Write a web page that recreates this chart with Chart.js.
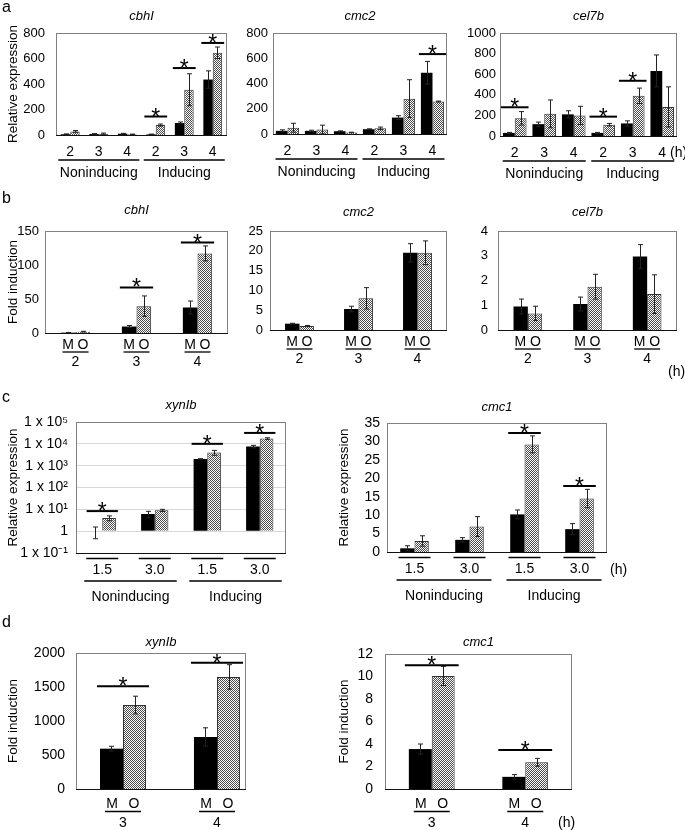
<!DOCTYPE html>
<html>
<head>
<meta charset="utf-8">
<script src="https://cdn.jsdelivr.net/npm/chart.js@4"></script>
<style>
  html, body { margin: 0; padding: 0; background: #fff; }
  body { position: relative; width: 685px; height: 830px; overflow: hidden; }
  canvas { position: absolute; }
</style>
</head>
<body>
<script>
// ---- data (M = black bars, O = hatched bars, *Er = error) ----
const groups = ['Noninducing', 'Inducing']
const hoursA = ['2', '3', '4', '2', '3', '4']
const hoursB = ['2', '3', '4']
const hoursC = ['1.5', '3.0', '1.5', '3.0']
const hoursD = ['3', '4']

// a: relative expression
const cbhA_M = [6, 8, 10, 5, 94, 435]
const cbhA_MEr = [3, 3, 3, 2, 8, 68]
const cbhA_O = [28, 10, 5, 78, 355, 645]
const cbhA_OEr = [7, 5, 2, 8, 125, 45]
const cbhA_star = [[3, 145], [4, 525], [5, 722]]

const cmc2A_M = [25, 25, 22, 38, 130, 485]
const cmc2A_MEr = [8, 5, 3, 3, 15, 90]
const cmc2A_O = [50, 35, 12, 45, 280, 257]
const cmc2A_OEr = [35, 35, 2, 10, 150, 4]
const cmc2A_star = [[5, 633]]

const cel7bA_M = [30, 115, 210, 30, 122, 632]
const cel7bA_MEr = [5, 20, 35, 5, 25, 155]
const cel7bA_O = [172, 215, 200, 110, 390, 282]
const cel7bA_OEr = [65, 135, 88, 12, 75, 195]
const cel7bA_star = [[0, 279], [3, 188], [4, 536]]

// b: fold induction
const cbhB_M = [0.5, 9.5, 37.5]
const cbhB_MEr = [0.3, 1.5, 9.5]
const cbhB_O = [2, 39.5, 117]
const cbhB_OEr = [0.5, 15, 11]
const cbhB_star = [[1, 67], [2, 133]]

const cmc2B_M = [1.6, 5.3, 19.5]
const cmc2B_MEr = [0.1, 0.7, 2.3]
const cmc2B_O = [1.0, 8.0, 19.5]
const cmc2B_OEr = [0.15, 2.7, 3.0]

const cel7bB_M = [0.95, 1.05, 2.97]
const cel7bB_MEr = [0.3, 0.28, 0.48]
const cel7bB_O = [0.67, 1.75, 1.45]
const cel7bB_OEr = [0.29, 0.5, 0.78]

// c: relative expression
const xynC_M = [1.0, 6.1, 2000, 7550]
const xynC_MEr = [0.55, 2.0, 100, 950]
const xynC_O = [4.0, 9.0, 4000, 17500]
const xynC_OEr = [1.0, 1.0, 1000, 1500]
const xynC_star = [[0, 8.3], [2, 10000], [3, 31600]]
const logTicks = [0.1, 1, 10, 100, 1000, 10000, 100000]
const logLabels = ['1 x 10\u207B\u00B9', '1', '1 x 10\u00B9', '1 x 10\u00B2', '1 x 10\u00B3', '1 x 10\u2074', '1 x 10\u2075']

const cmc1C_M = [1.0, 3.3, 10.2, 6.2]
const cmc1C_MEr = [0.7, 0.6, 1.2, 1.5]
const cmc1C_O = [3.0, 6.9, 29.2, 14.5]
const cmc1C_OEr = [1.4, 2.7, 2.3, 2.5]
const cmc1C_star = [[2, 32.3], [3, 17.9]]

// d: fold induction
const xynD_M = [593, 765]
const xynD_MEr = [35, 135]
const xynD_O = [1235, 1648]
const xynD_OEr = [130, 180]
const xynD_star = [[0, 1510], [1, 1858]]

const cmc1D_M = [3.55, 1.08]
const cmc1D_MEr = [0.45, 0.2]
const cmc1D_O = [10.05, 2.37]
const cmc1D_OEr = [0.85, 0.35]
const cmc1D_star = [[0, 11.0], [1, 3.47]]

const FONT = '"Liberation Sans", Arial, sans-serif'

// hatch fill for the O bars
const hatch = (function(){
    const c = document.createElement('canvas')
    c.width = 6; c.height = 6
    const g = c.getContext('2d')
    g.fillStyle = '#fff'
    g.fillRect(0, 0, 6, 6)
    g.strokeStyle = '#4a4a4a'
    g.lineWidth = 1
    for (let k = -8; k <= 8; k += 2) {
        g.beginPath(); g.moveTo(0, k); g.lineTo(6, k + 6); g.stroke()
    }
    return g.createPattern(c, 'repeat')
})()

function hline(ctx, x0, x1, y, w){
    ctx.lineWidth = w
    ctx.beginPath(); ctx.moveTo(x0, y); ctx.lineTo(x1, y); ctx.stroke()
}

const deco = {
    id: 'deco',
    afterDraw(chart, args, o){
        const ctx = chart.ctx, a = chart.chartArea, xs = chart.scales.x, ys = chart.scales.y
        const ox = o.box[0], oy = o.box[1]
        const fr = o.frameR ? o.frameR - ox : a.right
        ctx.save()
        // frame
        ctx.strokeStyle = '#808080'
        ctx.lineWidth = 1
        ctx.strokeRect(Math.round(a.left) + 0.5, Math.round(a.top) + 0.5, Math.round(fr - a.left) - 1, Math.round(a.bottom - a.top))
        ctx.strokeStyle = '#111'
        hline(ctx, a.left, fr, Math.round(a.bottom) + 0.5, 1.2)

        // error bars
        ctx.strokeStyle = '#222'
        ctx.lineWidth = 1
        chart.data.datasets.forEach((ds, i) => {
            chart.getDatasetMeta(i).data.forEach((el, j) => {
                const v = ds.data[j], e = o.err[i][j]
                const yt = ys.getPixelForValue(v + e)
                const yb = ys.getPixelForValue(Math.max(v - e, ys.min))
                const x = Math.round(el.x) + 0.5
                ctx.beginPath()
                ctx.moveTo(x, yb); ctx.lineTo(x, yt)
                ctx.moveTo(x - 2.5, yt); ctx.lineTo(x + 2.5, yt)
                ctx.moveTo(x - 2.5, yb); ctx.lineTo(x + 2.5, yb)
                ctx.stroke()
            })
        })

        // significance marks
        ctx.strokeStyle = '#000'
        ctx.fillStyle = '#000'
        ctx.textAlign = 'center'
        ctx.textBaseline = 'alphabetic'
        ctx.font = '23px ' + FONT
        ;(o.stars || []).forEach(([j, v]) => {
            const m = chart.getDatasetMeta(0).data[j], h = chart.getDatasetMeta(1).data[j]
            const x0 = m.x - m.width / 2 - (o.starPad || 2), x1 = h.x + h.width / 2 + (o.starPad || 2)
            const y = ys.getPixelForValue(v)
            hline(ctx, x0, x1, y, 2)
            ctx.fillText('*', (x0 + x1) / 2, y + 8)
        })

        // title
        ctx.textBaseline = 'middle'
        ctx.font = 'italic 13px ' + FONT
        ctx.fillText(o.title, (a.left + fr) / 2, a.top - o.titleOff)

        // y title
        if (o.ytitle) {
            ctx.save()
            ctx.translate(o.ytitle[1] - ox, (a.top + a.bottom) / 2)
            ctx.rotate(-Math.PI / 2)
            ctx.font = '13.5px ' + FONT
            ctx.fillText(o.ytitle[0], 0, 0)
            ctx.restore()
        }
        // panel letter
        if (o.letter) {
            ctx.textAlign = 'left'
            ctx.font = '16px ' + FONT
            ctx.fillText(o.letter[0], o.letter[1] - ox, o.letter[2] - oy)
            ctx.textAlign = 'center'
        }

        // x labels
        const b = a.bottom
        const cx = j => xs.getPixelForValue(j)
        const labels = chart.data.labels
        ctx.font = '14px ' + FONT
        ctx.lineWidth = 1.3
        if (o.xl === 'a' || o.xl === 'c') {
            const n = labels.length, per = n / 2
            const ly = b + 17
            const gy = o.xl === 'a' ? b + 25 : b + 28
            const ty = o.xl === 'a' ? b + 38 : b + 44
            labels.forEach((t, j) => {
                ctx.fillText(t, cx(j), ly)
                if (o.xl === 'c') hline(ctx, cx(j) - 16, cx(j) + 16, b + 5.5, 1.3)
            })
            const l0 = o.xl === 'a' ? 12 : 18, r0 = o.xl === 'a' ? 12 : 22
            groups.forEach((g, k) => {
                const c0 = cx(k * per), c1 = cx(k * per + per - 1)
                hline(ctx, c0 - l0, c1 + r0, gy, 1.3)
                ctx.fillText(g, (c0 - l0 + c1 + r0) / 2, ty)
            })
        } else {
            const big = o.xl === 'd'
            const my = big ? b + 15 : b + 12
            const uy = big ? b + 22.5 : b + 19
            const ny = big ? b + 34 : b + 29
            const dx = big ? 11 : 7.5, ux = big ? 18 : 13
            labels.forEach((t, j) => {
                const c = cx(j)
                ctx.fillText('M', c - dx, my)
                ctx.fillText('O', c + dx, my)
                hline(ctx, c - ux, c + ux, uy, 1.3)
                ctx.fillText(t, c, ny)
            })
        }
        if (o.hUnit) {
            ctx.textAlign = 'left'
            ctx.fillText('(h)', o.hUnit[0] - ox, o.hUnit[1] - oy)
        }
        ctx.restore()
    }
}

function panel(o){
    const [bx0, by0, bx1, by1] = o.box
    const [l, t, r, b] = o.plot
    const cv = document.createElement('canvas')
    cv.width = bx1 - bx0
    cv.height = by1 - by0
    cv.style.left = bx0 + 'px'
    cv.style.top = by0 + 'px'
    cv.style.width = (bx1 - bx0) + 'px'
    cv.style.height = (by1 - by0) + 'px'
    document.body.appendChild(cv)

    const yOpts = {
        type: o.log ? 'logarithmic' : 'linear',
        min: o.min, max: o.max,
        afterFit: s => { s.width = l - bx0 },
        grid: { display: !!o.log, color: '#d8d8d8', drawTicks: false },
        border: { display: false },
        ticks: { color: '#000', padding: o.tickPad, autoSkip: false, font: { family: FONT, size: o.tickSize } }
    }
    if (o.log) {
        yOpts.afterBuildTicks = s => { s.ticks = logTicks.map(v => ({ value: v })) }
        yOpts.ticks.callback = v => logLabels[logTicks.indexOf(v)] || ''
    } else {
        yOpts.ticks.stepSize = o.step
        yOpts.ticks.callback = v => String(v)
    }

    new Chart(cv, {
        type: 'bar',
        data: {
            labels: o.labels,
            datasets: [
                { data: o.M, backgroundColor: '#000', borderWidth: 0, base: o.log ? 1 : undefined,
                  categoryPercentage: o.cp, barPercentage: 1 },
                { data: o.O, backgroundColor: hatch, borderColor: '#333', borderWidth: 1, base: o.log ? 1 : undefined,
                  categoryPercentage: o.cp, barPercentage: 1 }
            ]
        },
        options: {
            responsive: false,
            animation: false,
            layout: { padding: { left: 0, top: t - by0, right: bx1 - r, bottom: by1 - b } },
            scales: { x: { display: false }, y: yOpts },
            plugins: {
                legend: { display: false },
                tooltip: { enabled: false },
                deco: {
                    box: o.box, err: [o.MEr, o.OEr], stars: o.stars, starPad: o.starPad,
                    title: o.title, titleOff: o.titleOff, ytitle: o.ytitle, letter: o.letter,
                    xl: o.xl, hUnit: o.hUnit, frameR: o.frameR
                }
            }
        },
        plugins: [deco]
    })
}

// row a
panel({ box: [0, 0, 230, 186], plot: [56, 33, 227, 135], labels: hoursA, M: cbhA_M, MEr: cbhA_MEr, O: cbhA_O, OEr: cbhA_OEr,
    stars: cbhA_star, min: 0, max: 800, step: 200, tickPad: 11, tickSize: 13, cp: 0.66, title: 'cbhI', titleOff: 17,
    ytitle: ['Relative expression', 13], letter: ['a', 2, 8], xl: 'a' })
panel({ box: [230, 0, 455, 186], plot: [273, 33, 447, 134], labels: hoursA, M: cmc2A_M, MEr: cmc2A_MEr, O: cmc2A_O, OEr: cmc2A_OEr,
    stars: cmc2A_star, min: 0, max: 800, step: 200, tickPad: 5, tickSize: 13, cp: 0.8, title: 'cmc2', titleOff: 17, xl: 'a' })
panel({ box: [455, 0, 685, 186], plot: [500, 33, 677, 136], labels: hoursA, M: cel7bA_M, MEr: cel7bA_MEr, O: cel7bA_O, OEr: cel7bA_OEr,
    stars: cel7bA_star, min: 0, max: 1000, step: 200, tickPad: 4, tickSize: 13, cp: 0.8, title: 'cel7b', titleOff: 17, xl: 'a',
    hUnit: [670, 153] })

// row b
panel({ box: [0, 188, 230, 386], plot: [45, 231, 228, 333], labels: hoursB, M: cbhB_M, MEr: cbhB_MEr, O: cbhB_O, OEr: cbhB_OEr,
    stars: cbhB_star, min: 0, max: 150, step: 50, tickPad: 6, tickSize: 13, cp: 0.48, title: 'cbhI', titleOff: 21,
    ytitle: ['Fold induction', 13], letter: ['b', 2, 199], xl: 'b' })
panel({ box: [230, 188, 455, 386], plot: [270, 231, 447, 330], labels: hoursB, M: cmc2B_M, MEr: cmc2B_MEr, O: cmc2B_O, OEr: cmc2B_OEr,
    min: 0, max: 25, step: 5, tickPad: 7, tickSize: 13, cp: 0.49, title: 'cmc2', titleOff: 19, xl: 'b' })
panel({ box: [455, 188, 685, 386], plot: [498, 231, 677, 330], labels: hoursB, M: cel7bB_M, MEr: cel7bB_MEr, O: cel7bB_O, OEr: cel7bB_OEr,
    min: 0, max: 4, step: 1, tickPad: 10, tickSize: 13, cp: 0.48, title: 'cel7b', titleOff: 19, xl: 'b', hUnit: [668, 372] })

// row c
panel({ box: [0, 390, 337, 616], plot: [76, 422, 286, 553], labels: hoursC, M: xynC_M, MEr: xynC_MEr, O: xynC_O, OEr: xynC_OEr,
    stars: xynC_star, log: true, min: 0.1, max: 100000, tickPad: 8, tickSize: 14, cp: 0.52, title: 'xynIb', titleOff: 17,
    ytitle: ['Relative expression', 13], letter: ['c', 2, 398], xl: 'c' })
panel({ box: [337, 390, 685, 616], plot: [387, 423, 607, 552], labels: hoursC, M: cmc1C_M, MEr: cmc1C_MEr, O: cmc1C_O, OEr: cmc1C_OEr,
    stars: cmc1C_star, min: 0, max: 35, step: 5, tickPad: 7, tickSize: 14, cp: 0.52, title: 'cmc1', titleOff: 16,
    ytitle: ['Relative expression', 344], xl: 'c', hUnit: [610, 570] })

// row d (bars in xynIb sit right of centre, so the plot runs wider than its frame)
panel({ box: [0, 612, 337, 830], plot: [76, 653, 264, 789], frameR: 246, labels: hoursD, M: xynD_M, MEr: xynD_MEr, O: xynD_O, OEr: xynD_OEr,
    stars: xynD_star, min: 0, max: 2000, step: 500, tickPad: 11, tickSize: 14, cp: 0.49, title: 'xynIb', titleOff: 11,
    ytitle: ['Fold induction', 13], letter: ['d', 2, 623], xl: 'd', starPad: 3 })
panel({ box: [337, 612, 685, 830], plot: [385, 654, 572, 789], labels: hoursD, M: cmc1D_M, MEr: cmc1D_MEr, O: cmc1D_O, OEr: cmc1D_OEr,
    stars: cmc1D_star, min: 0, max: 12, step: 2, tickPad: 12, tickSize: 14, cp: 0.49, title: 'cmc1', titleOff: 12,
    ytitle: ['Fold induction', 344], xl: 'd', hUnit: [558, 823], starPad: 4 })
</script>
</body>
</html>
